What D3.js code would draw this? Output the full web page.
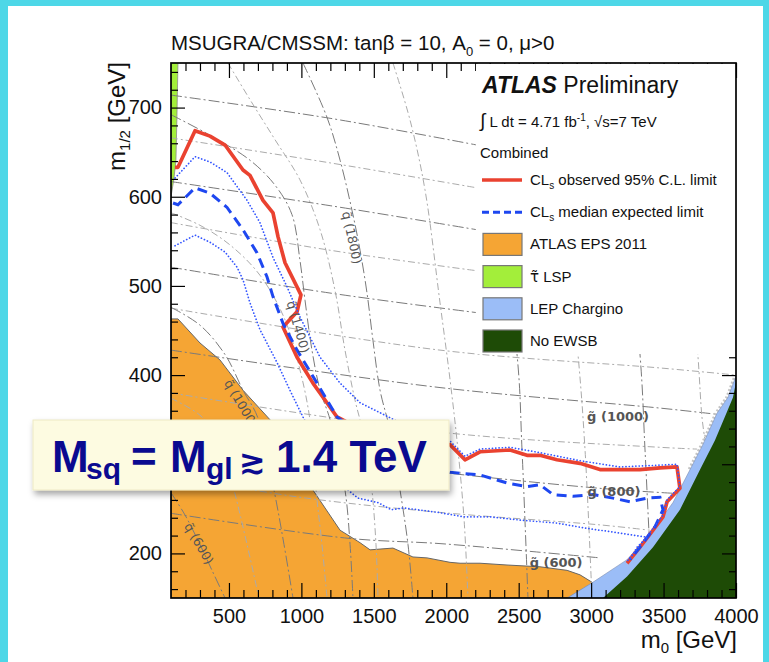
<!DOCTYPE html>
<html><head><meta charset="utf-8">
<script src="https://cdn.jsdelivr.net/npm/d3@7"></script>
<style>
body{margin:0;background:#fff;}
svg{display:block;font-family:"Liberation Sans",Arial,Helvetica,sans-serif;}
</style>
</head><body>
<svg id="c" width="769" height="662"></svg>
<script>
// ---------------- data ----------------
const xTicks = [500,1000,1500,2000,2500,3000,3500,4000];
const yTicks = [200,300,400,500,600,700];

const observedLimit = [[128,633],[148,633],[266,674],[369,668],[473,658],[597,630],[645,624],[735,596],[804,582],[839,555],[887,526],[997,490],[970,471],[873,454],[970,420],[1080,391],[1246,353],[1400,340],[1700,326],[2026,322],[2129,305],[2233,314],[2440,316],[2557,310],[2647,310],[2764,305],[2923,301],[3061,294],[3199,294],[3337,294],[3475,296],[3593,297],[3613,273],[3524,258],[3496,241],[3427,226],[3337,207],[3268,193],[3248,189]];
const expectedLimit = [[114,593],[148,591],[266,610],[369,604],[487,588],[597,563],[694,537],[763,510],[804,488],[873,458],[970,428],[1108,391],[1246,353],[1500,322],[1800,302],[2026,291],[2233,288],[2419,279],[2557,275],[2647,277],[2737,266],[2875,264],[3013,266],[3151,262],[3268,258],[3386,262],[3475,263],[3496,249],[3441,230],[3337,207],[3268,193]];
const expectedPlus1 = [[128,621],[266,645],[369,639],[487,627],[625,596],[714,571],[804,532],[901,499],[991,465],[1129,420],[1267,391],[1405,369],[1700,345],[2026,326],[2129,309],[2233,317],[2440,319],[2647,313],[2923,304],[3199,297],[3475,299],[3593,300],[3613,275],[3524,260],[3496,243],[3427,228],[3337,209],[3248,191]];
const expectedMinus1 = [[128,545],[266,557],[369,549],[473,538],[556,521],[597,507],[645,481],[714,451],[832,414],[921,383],[1011,353],[1150,310],[1322,271],[1391,262],[1529,257],[1619,249],[1708,251],[1943,246],[2123,241],[2302,241],[2530,237],[2765,234],[2972,228],[3151,224],[3386,218],[3317,207],[3268,193]];

const atlasEps2011 = [[100,463],[148,463],[300,436],[438,417],[597,383],[783,350],[1080,271],[1267,226],[1405,212],[1474,204],[1632,206],[1770,196],[1867,195],[2026,190],[2095,189],[2233,189],[2419,187],[2647,185],[2834,181],[2923,176],[3013,167],[2840,150],[100,150]];
const stauLsp = [[100,750],[148,750],[141,690],[134,641],[120,620],[100,600]];
const lepChargino = [[2834,150],[3006,167],[3248,193],[3427,226],[3565,257],[3683,294],[3771,322],[3868,357],[3944,375],[4000,399],[4000,150]];
const noEwsb = [[3082,150],[3248,174],[3427,207],[3613,249],[3752,294],[3855,327],[3938,359],[3979,375],[4000,392],[4000,150]];

const gluinoContours = [
  {mass:600,  pts:[[100,245],[1322,217],[1957,211],[2599,202],[3061,195]]},
  {mass:700,  pts:[[100,287],[990,263],[1957,246],[3061,232],[3406,226]]},
  {mass:800,  pts:[[100,332],[990,310],[1957,291],[3061,273],[3613,267]]},
  {mass:900,  pts:[[100,380],[1957,336],[3475,319],[3731,317]]},
  {mass:1000, pts:[[100,428],[1957,386],[3475,363],[3868,356]]},
  {mass:1100, pts:[[100,475],[1957,428],[3475,408],[4000,400]]},
  {mass:1200, pts:[[100,521],[1198,492],[2212,470]]},
  {mass:1300, pts:[[100,571],[1198,540],[2212,517]]},
  {mass:1400, pts:[[100,617],[1198,590],[2212,563]]},
  {mass:1500, pts:[[100,666],[1198,638],[2212,610]]},
  {mass:1600, pts:[[100,714],[1198,688],[2212,658]]}
];
const squarkContours = [
  {mass:600,  pts:[[100,268],[197,243],[300,210],[383,181],[473,150]]},
  {mass:800,  pts:[[100,374],[300,355],[438,327],[535,271],[625,210],[707,150]]},
  {mass:1000, pts:[[100,476],[300,456],[473,423],[597,383],[700,352],[811,271],[880,210],[942,150]]},
  {mass:1200, pts:[[100,582],[300,568],[507,546],[714,512],[887,462],[990,406],[1059,350],[1101,271],[1142,210],[1177,150]]},
  {mass:1400, pts:[[100,692],[369,669],[645,641],[818,613],[935,580],[990,529],[1025,484],[1073,428],[1129,383],[1198,350],[1301,271],[1336,210],[1356,150]]},
  {mass:1600, pts:[[493,750],[645,709],[818,664],[990,619],[1129,563],[1232,495],[1301,428],[1370,372],[1439,327],[1487,271],[1515,210],[1529,150]]},
  {mass:1800, pts:[[1011,750],[1177,689],[1267,641],[1349,585],[1405,540],[1453,492],[1494,439],[1543,383],[1612,338],[1681,271],[1736,210],[1770,150]]},
  {mass:2000, pts:[[1632,750],[1750,686],[1853,608],[1957,481],[2026,395],[2081,316],[2123,238],[2150,150]]},
  {mass:2200, pts:[[2212,750],[2488,424],[2523,316],[2564,150]]},
  {mass:2400, pts:[[2702,750],[2909,424],[2958,316],[3006,150]]},
  {mass:2600, pts:[[3130,750],[3337,424],[3372,316],[3406,200]]},
  {mass:2800, pts:[[3579,750],[3738,420],[3765,353],[3786,327]]}
];
const darkSquark = [600,1000,1400,1800,2200,2600];
const gluinoLabels = [{text:"g\u0303 (1000)",x:3186,y:354},{text:"g\u0303 (800)",x:3158,y:270},{text:"g\u0303 (600)",x:2758,y:190}];
const squarkLabels = [{text:"q\u0303 (1800)",x:1349,y:554,rot:78},{text:"q\u0303 (1400)",x:977,y:454,rot:74},{text:"q\u0303 (1000)",x:583,y:368,rot:60},{text:"q\u0303 (600)",x:293,y:211,rot:60}];

const legendEntries = [
  {label:"observed 95% C.L. limit", cls:true, type:"line", color:"#EA4230"},
  {label:"median expected limit", cls:true, type:"dash", color:"#1E47F0"},
  {label:"ATLAS EPS 2011", type:"box", color:"#F5A534"},
  {label:"\u03C4\u0303 LSP", type:"box", color:"#A3EE3A"},
  {label:"LEP Chargino", type:"box", color:"#9BBDF7"},
  {label:"No EWSB", type:"box", color:"#1E4B06"}
];

// ---------------- drawing ----------------
const svg = d3.select("#c");
const FONT = "Liberation Sans, Arial, Helvetica, sans-serif";
svg.append("rect").attr("width",769).attr("height",662).attr("fill","#fff");
svg.append("rect").attr("x",0).attr("y",0).attr("width",8).attr("height",662).attr("fill","#4DD7E7");
svg.append("rect").attr("x",0).attr("y",0).attr("width",769).attr("height",6).attr("fill","#4DD7E7");
svg.append("rect").attr("x",763).attr("y",0).attr("width",6).attr("height",662).attr("fill","#4DD7E7");

const x = d3.scaleLinear().domain([100,4000]).range([171,736]);
const y = d3.scaleLinear().domain([150,750]).range([598,63]);
const line = d3.line().x(d=>x(d[0])).y(d=>y(d[1]));
const smooth = d3.line().x(d=>x(d[0])).y(d=>y(d[1])).curve(d3.curveCatmullRom.alpha(0.5));

const defs = svg.append("defs");
defs.append("clipPath").attr("id","clip").append("rect").attr("x",171).attr("y",63).attr("width",565).attr("height",535);
const f = defs.append("filter").attr("id","sh").attr("x","-10%").attr("y","-30%").attr("width","130%").attr("height","180%");
f.append("feDropShadow").attr("dx",2).attr("dy",4).attr("stdDeviation",3).attr("flood-color","#000").attr("flood-opacity",0.35);

const plot = svg.append("g").attr("clip-path","url(#clip)");

plot.append("path").attr("d", line(atlasEps2011)+"Z").attr("fill","#F5A534").attr("stroke","#666").attr("stroke-width",1);
plot.append("path").attr("d", line(stauLsp)+"Z").attr("fill","#A3EE3A").attr("stroke","#8a8a8a").attr("stroke-width",0.8);

gluinoContours.forEach(c=>{
  const dark = c.mass % 200 === 0;
  plot.append("path").attr("d", smooth(c.pts)).attr("fill","none")
    .attr("stroke", dark ? "#7a7a7a" : "#ababab").attr("stroke-width",1)
    .attr("stroke-dasharray", dark ? "11,3,2,3" : "7,3,2,3");
});
squarkContours.forEach(c=>{
  const isDark = darkSquark.includes(c.mass);
  plot.append("path").attr("d", smooth(c.pts)).attr("fill","none")
    .attr("stroke", isDark ? "#7a7a7a" : "#ababab").attr("stroke-width",1)
    .attr("stroke-dasharray", isDark ? "11,3,2,3" : "7,3,2,3");
});

plot.append("path").attr("d", line(lepChargino.slice(5,10))).attr("fill","none")
  .attr("stroke","#c4c4c4").attr("stroke-width",5).attr("stroke-dasharray","2,2");
plot.append("path").attr("d", line(lepChargino)+"Z").attr("fill","#9BBDF7").attr("stroke","#7f8fb0").attr("stroke-width",0.6);
plot.append("path").attr("d", line(noEwsb)+"Z").attr("fill","#1E4B06");

plot.append("path").attr("d", line(observedLimit)).attr("fill","none").attr("stroke","#EA4230").attr("stroke-width",3.7).attr("stroke-linejoin","round");
plot.append("path").attr("d", line(expectedLimit)).attr("fill","none").attr("stroke","#1E47F0").attr("stroke-width",3).attr("stroke-dasharray","10,6");
[expectedPlus1, expectedMinus1].forEach(s=>{
  plot.append("path").attr("d", line(s)).attr("fill","none").attr("stroke","#3355FF")
    .attr("stroke-width",1.7).attr("stroke-dasharray","0.1,3.2").attr("stroke-linecap","round");
});

gluinoLabels.forEach(l=>{
  plot.append("text").attr("x",x(l.x)).attr("y",y(l.y)).attr("dy","0.35em").attr("text-anchor","middle")
    .attr("font-size",13).attr("font-weight","bold").attr("fill","#555").attr("font-family","DejaVu Sans, "+FONT).text(l.text);
});
squarkLabels.forEach(l=>{
  plot.append("text").attr("transform",`translate(${x(l.x)},${y(l.y)}) rotate(${l.rot})`).attr("dy","0.35em")
    .attr("text-anchor","middle").attr("font-size",12.5).attr("fill","#555").attr("font-family","DejaVu Sans, "+FONT).text(l.text);
});

function styleAxis(g){ g.select(".domain").remove(); g.selectAll("line").attr("stroke","#000").attr("stroke-width",1.2);
  g.attr("font-family",FONT).attr("font-size",20); g.selectAll("text").attr("fill","#111"); }
const xMinor = d3.range(200,4000,100).filter(v=>v%500!==0);
const yMinor = d3.range(160,750,20).filter(v=>v%100!==0);
// the 300 label sits behind the overlay box in the reference
const yFmt = d => d === 300 ? "" : d3.format("d")(d);
svg.append("g").attr("transform","translate(0,598)").call(d3.axisBottom(x).tickValues(xTicks).tickSize(-15).tickPadding(11).tickFormat(d3.format("d"))).call(styleAxis);
svg.append("g").attr("transform","translate(0,598)").call(d3.axisBottom(x).tickValues(xMinor).tickSize(-8).tickFormat("")).call(styleAxis);
svg.append("g").attr("transform","translate(0,63)").call(d3.axisTop(x).tickValues(xTicks).tickSize(-15).tickFormat("")).call(styleAxis);
svg.append("g").attr("transform","translate(0,63)").call(d3.axisTop(x).tickValues(xMinor).tickSize(-8).tickFormat("")).call(styleAxis);
svg.append("g").attr("transform","translate(171,0)").call(d3.axisLeft(y).tickValues(yTicks).tickSize(-14).tickPadding(9).tickFormat(yFmt)).call(styleAxis);
svg.append("g").attr("transform","translate(171,0)").call(d3.axisLeft(y).tickValues(yMinor).tickSize(-7).tickFormat("")).call(styleAxis);
svg.append("g").attr("transform","translate(736,0)").call(d3.axisRight(y).tickValues(yTicks).tickSize(-14).tickFormat("")).call(styleAxis);
svg.append("g").attr("transform","translate(736,0)").call(d3.axisRight(y).tickValues(yMinor).tickSize(-7).tickFormat("")).call(styleAxis);

const lg = svg.append("g").attr("font-family",FONT);
lg.append("rect").attr("x",476).attr("y",64).attr("width",260).attr("height",290).attr("fill","#fff");
const t1 = lg.append("text").attr("x",482).attr("y",93).attr("font-size",23).attr("fill","#111");
t1.append("tspan").attr("font-weight","bold").attr("font-style","italic").text("ATLAS");
t1.append("tspan").text(" Preliminary");
const t2 = lg.append("text").attr("x",480).attr("y",127).attr("font-size",15).attr("fill","#111");
t2.append("tspan").attr("font-size",19).text("\u222B");
t2.append("tspan").text(" L dt = 4.71 fb");
t2.append("tspan").attr("font-size",10).attr("dy",-6).text("-1");
t2.append("tspan").attr("dy",6).text(", \u221As=7 TeV");
lg.append("text").attr("x",480).attr("y",158).attr("font-size",15).attr("fill","#111").text("Combined");
legendEntries.forEach((e,i)=>{
  const cy = 180 + i*32.2;
  if(e.type==="line"){
    lg.append("line").attr("x1",482).attr("x2",522).attr("y1",cy).attr("y2",cy).attr("stroke",e.color).attr("stroke-width",3.5);
  } else if(e.type==="dash"){
    lg.append("line").attr("x1",482).attr("x2",522).attr("y1",cy).attr("y2",cy).attr("stroke",e.color).attr("stroke-width",3).attr("stroke-dasharray","7,4");
  } else {
    lg.append("rect").attr("x",483).attr("y",cy-11).attr("width",39).attr("height",22).attr("fill",e.color).attr("stroke","#777").attr("stroke-width",1.2);
  }
  const tx = lg.append("text").attr("x",530).attr("y",cy+5).attr("font-size",15).attr("fill","#111");
  if(e.cls){
    tx.append("tspan").text("CL");
    tx.append("tspan").attr("font-size",10).attr("dy",4).text("s");
    tx.append("tspan").attr("dy",-4).text(" "+e.label);
  } else if(e.label.startsWith("\u03C4")){
    tx.append("tspan").attr("font-family","DejaVu Sans").text("\u03C4\u0303");
    tx.append("tspan").text(" LSP");
  } else tx.text(e.label);
});

svg.append("rect").attr("x",171).attr("y",63).attr("width",565).attr("height",535).attr("fill","none").attr("stroke","#000").attr("stroke-width",1.7);

const tt = svg.append("text").attr("x",171).attr("y",50).attr("font-size",20.5).attr("fill","#111").attr("font-family",FONT);
tt.append("tspan").text("MSUGRA/CMSSM: tan\u03B2 = 10, A");
tt.append("tspan").attr("font-size",13).attr("dy",6).text("0");
tt.append("tspan").attr("dy",-6).text(" = 0, \u03BC>0");

const xt = svg.append("text").attr("x",737).attr("y",648).attr("text-anchor","end").attr("font-size",24).attr("fill","#111").attr("font-family",FONT);
xt.append("tspan").text("m");
xt.append("tspan").attr("font-size",15).attr("dy",5).text("0");
xt.append("tspan").attr("dy",-5).text(" [GeV]");

const yt = svg.append("text").attr("transform","translate(125,62) rotate(-90)").attr("text-anchor","end").attr("font-size",24).attr("fill","#111").attr("font-family",FONT);
yt.append("tspan").text("m");
yt.append("tspan").attr("font-size",15).attr("dy",5).text("1/2");
yt.append("tspan").attr("dy",-5).text(" [GeV]");

svg.append("rect").attr("x",33).attr("y",420).attr("width",416).attr("height",70).attr("fill","#FDFBE1").attr("stroke","#EEE9C4").attr("stroke-width",1).attr("filter","url(#sh)");
const ov = svg.append("text").attr("y",472).attr("font-size",44).attr("font-weight","bold").attr("fill","#0A0A90").attr("font-family",FONT);
ov.append("tspan").attr("x",52).text("M");
ov.append("tspan").attr("x",86).attr("dy",7).attr("font-size",30).text("sq");
ov.append("tspan").attr("x",131).attr("dy",-7).text("=");
ov.append("tspan").attr("x",170).text("M");
ov.append("tspan").attr("x",206).attr("dy",7).attr("font-size",30).text("gl");
ov.append("tspan").attr("x",239).attr("dy",-7).attr("font-size",32).attr("font-family","DejaVu Sans").text("\u2273");
ov.append("tspan").attr("x",276).text("1.4 TeV");
</script>
</body></html>
